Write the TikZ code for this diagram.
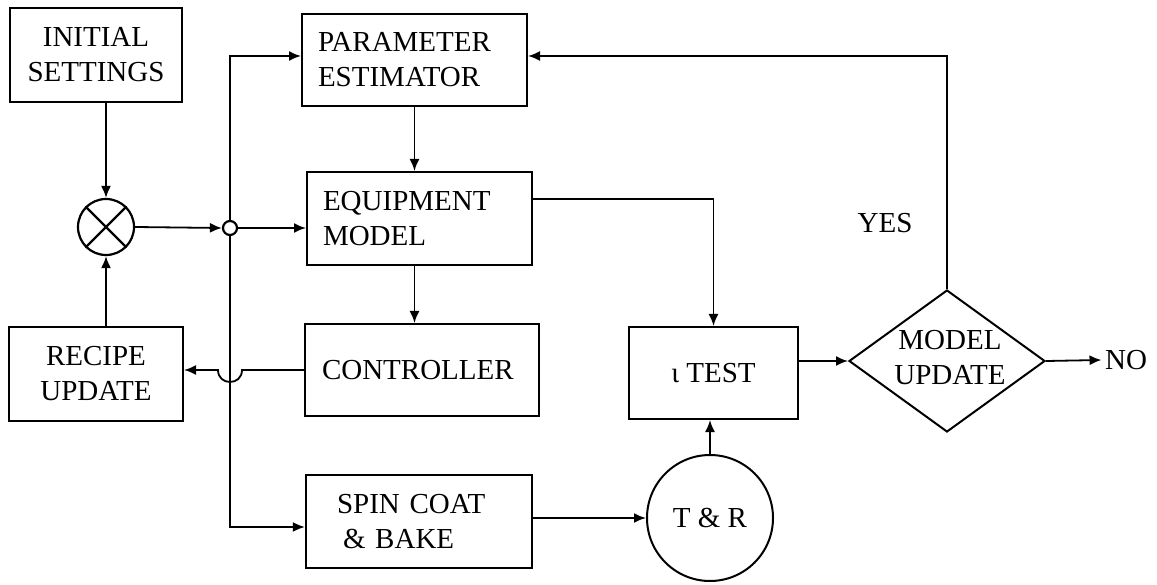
\documentclass[tikz,border=0pt]{standalone}
\usepackage{fontspec}
\setmainfont{Liberation Serif}
\usetikzlibrary{arrows.meta,shapes.geometric,calc}
\begin{document}
\begin{tikzpicture}[x=1pt,y=-1pt,
  every node/.style={font=\fontsize{29}{35}\selectfont},
  box/.style={draw, line width=2pt, inner sep=0pt, align=center},
  lbox/.style={draw, line width=2pt, inner ysep=0pt, align=left},
  conn/.style={line width=1.8pt, -{Latex[length=12pt,width=10pt]}}]
\useasboundingbox (0,0) rectangle (1157,585);

\node[box, minimum width=172pt, minimum height=94pt] (init) at (96,55) {INITIAL\\SETTINGS};
\node[box, minimum width=174pt, minimum height=94pt] (recipe) at (96,374) {RECIPE\\UPDATE};
\node[lbox, inner xsep=16pt, text width=193pt, minimum height=92pt] (param) at (414.5,60) {PARAMETER\\ESTIMATOR};
\node[lbox, inner xsep=16pt, text width=193pt, minimum height=93pt] (equip) at (419.5,218.5) {EQUIPMENT\\MODEL};
\node[lbox, inner xsep=17pt, text width=200pt, minimum height=92pt] (ctrl) at (422,370) {CONTROLLER};
\node[lbox, line width=2.4pt, inner xsep=31pt, text width=164pt, minimum height=93pt] (spin) at (419,521.5) {SPIN COAT\\\hspace*{6pt}\& BAKE};
\node[box, minimum width=169pt, minimum height=92pt] (ttest) at (713.5,373) {ι TEST};
\node[circle, draw, line width=2pt, minimum size=126pt, inner sep=0pt] (tr) at (710,518) {T \& R};
\node[circle, draw, line width=2.2pt, minimum size=56pt, inner sep=0pt] (mult) at (106,227) {};
\draw[line width=2.2pt] (mult.north east) -- (mult.south west) (mult.north west) -- (mult.south east);
\node[diamond, draw, line width=2pt, minimum width=196pt, minimum height=142pt, inner sep=0pt] (dm) at (947,361) {};
\node[align=center] (dmt) at (950,358) {MODEL\\UPDATE};
\node (no) at (1126,360) {NO};
\node (yes) at (885,223) {YES};

\draw[conn] (init.south -| mult.north) -- (mult.north);
\draw[conn] (recipe.north -| mult.south) -- (mult.south);
\node[circle, draw, line width=2.2pt, minimum size=14pt, inner sep=0pt, fill=white] (jn) at (230,228) {};
\draw[conn] (mult.east) -- (jn.west);
\draw[conn] (jn.east) -- (jn.east -| equip.west);
\draw[conn] (jn.north) |- ([yshift=4pt]param.west);
\draw[conn] (jn.south) |- ([yshift=-5.5pt]spin.west);
\draw[conn] (param.south) -- (param.south |- equip.north);
\draw[conn] (param.south |- equip.south) -- (param.south |- ctrl.north);
\draw[conn] ([yshift=19.5pt]equip.east) -| (ttest.north);
\draw[conn] (ctrl.west) -- ($(jn |- ctrl.west)+(12,0)$) .. controls +(0,16) and +(0,16) .. ($(jn |- ctrl.west)+(-12,0)$) -- (ctrl.west -| recipe.east);
\draw[conn] (tr.west -| spin.east) -- (tr.west);
\draw[conn] (tr.north) -- (tr.north |- ttest.south);
\draw[conn] (dm.west -| ttest.east) -- (dm.west);
\draw[conn] (dm.east) -- (no.west);
\draw[conn] (dm.north) |- ([yshift=4pt]param.east);
\end{tikzpicture}
\end{document}
